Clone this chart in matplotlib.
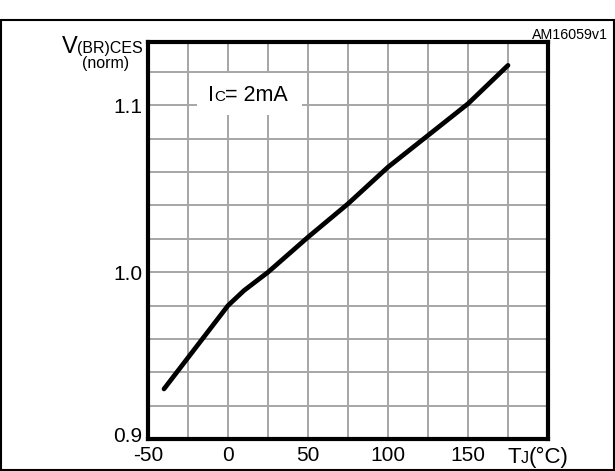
import matplotlib
matplotlib.use("Agg")
import matplotlib.pyplot as plt
from matplotlib.patches import Rectangle
from matplotlib.ticker import MultipleLocator
from matplotlib.transforms import ScaledTranslation

plt.rcParams['font.family'] = ['Liberation Sans', 'DejaVu Sans']

# curve (Tj in degC, normalized V(BR)CES)
temp_c = [-40, -20, 0, 10, 25, 50, 75, 100, 125, 150, 175]
v_norm = [0.930, 0.955, 0.980, 0.989, 1.000, 1.021, 1.041, 1.063, 1.082, 1.101, 1.124]

x_ticks = [-50, 0, 50, 100, 150]
x_tick_labels = ['-50', '0', '50', '100', '150']
y_ticks = [0.9, 1.0, 1.1]
y_tick_labels = ['0.9', '1.0', '1.1']

W, H = 615, 471
fig = plt.figure(figsize=(W / 100, H / 100), dpi=100)

# axes box in pixel coords of the image
left, right, top, bottom = 148, 548, 42, 439
ax = fig.add_axes([left / W, 1 - bottom / H, (right - left) / W, (bottom - top) / H])

ax.plot(temp_c, v_norm, color='black', lw=3.4, solid_capstyle='round', solid_joinstyle='round', zorder=3)

ax.set_xlim(-50, 200)
ax.set_ylim(0.9, 1.138)
ax.set_xticks(x_ticks)
ax.set_xticklabels(x_tick_labels)
ax.set_yticks(y_ticks)
ax.set_yticklabels(y_tick_labels)
ax.xaxis.set_minor_locator(MultipleLocator(25))
ax.yaxis.set_minor_locator(MultipleLocator(0.02))
ax.grid(which='both', color='#a6a6a6', lw=1.4, zorder=0)
ax.tick_params(which='both', length=0, labelsize=15)
ax.tick_params(axis='y', pad=4)
ax.tick_params(axis='x', pad=5)
for s in ax.spines.values():
    s.set_linewidth(3.0)
    s.set_zorder(4)

# the 0.9 label sits a little higher in the original
lbl = ax.get_yticklabels()[0]
lbl.set_transform(lbl.get_transform() + ScaledTranslation(0, 4 / 100, fig.dpi_scale_trans))

renderer = fig.canvas.get_renderer()


def mixed_text(x, y, parts, ha='left'):
    # parts: list of (string, fontsize); x, y in image pixels (y from top), baseline aligned
    items = []
    for s, size in parts:
        t = fig.text(0, 0, s, fontsize=size, ha='left', va='baseline', transform=None, zorder=6)
        items.append(t)
    widths = [t.get_window_extent(renderer).width for t in items]
    total = sum(widths)
    cur = x - total if ha == 'right' else (x - total / 2 if ha == 'center' else x)
    for t, w in zip(items, widths):
        t.set_position((cur, H - y))
        cur += w
    return items


mixed_text(143, 53, [('V', 17), ('(BR)CES', 11.5)], ha='right')
fig.text(106 / W, 1 - 68 / H, '(norm)', fontsize=11.5, ha='center', va='baseline')
fig.text(608 / W, 1 - 39 / H, 'AM16059v1', fontsize=10.3, ha='right', va='baseline')
mixed_text(538, 463, [('T', 16), ('J', 11.5), ('(°C)', 16)], ha='center')

# Ic label in a white box over the grid
ax_box = Rectangle((197, H - 115), 105, 42, transform=None, facecolor='white', edgecolor='none', zorder=5)
fig.patches.append(ax_box)
mixed_text(248, 101, [('I', 15.5), ('C', 11), ('= 2mA', 15.5)], ha='center')

# frame around the figure
fig.patches.append(Rectangle((1, 1), W - 2, H - 21, transform=None, fill=False,
                             edgecolor='black', lw=1.5, zorder=10))

fig.savefig('out.png', dpi=100)
